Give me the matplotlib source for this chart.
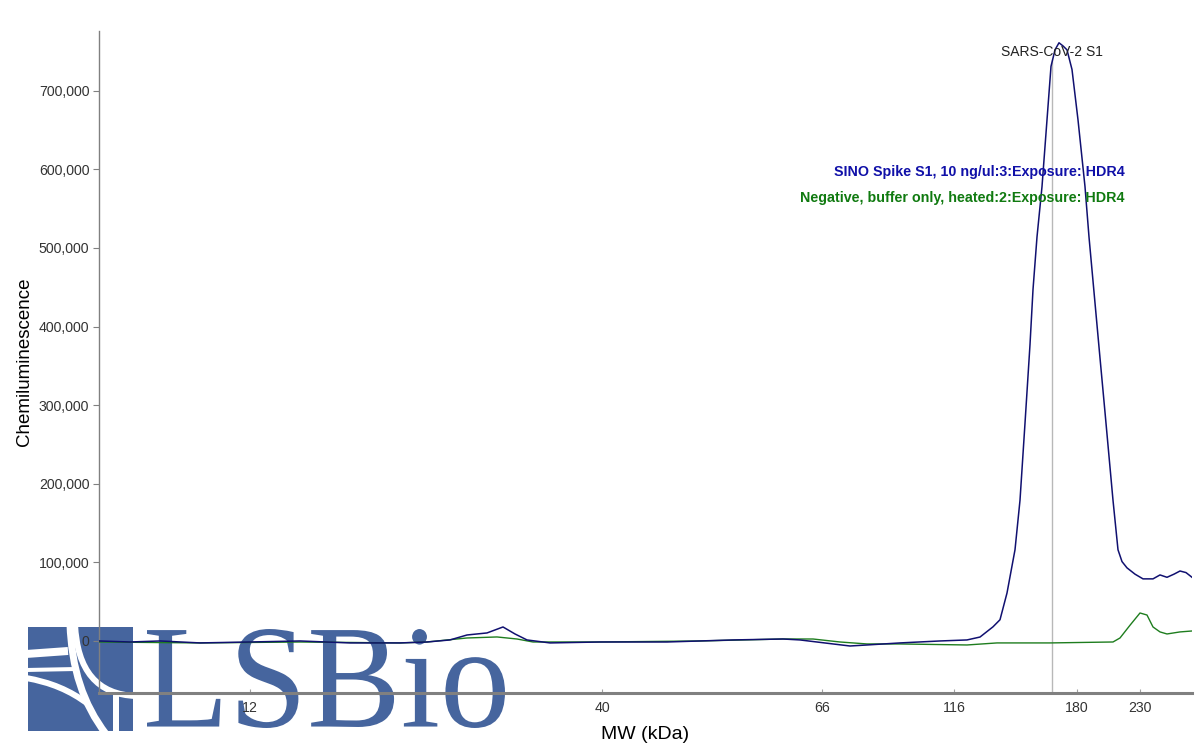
import matplotlib
matplotlib.use("Agg")
import matplotlib.pyplot as plt
from matplotlib.textpath import TextPath
from matplotlib.font_manager import FontProperties
from matplotlib.patches import PathPatch, Rectangle
from matplotlib.path import Path
from matplotlib.transforms import Affine2D
from matplotlib.ticker import FuncFormatter

# ---------------- data ----------------
# lane position (distance along the lane, arbitrary units)
sino_pos = [0, 31, 61, 101, 151, 201, 251, 301, 328, 351,
            368, 388, 404, 416, 428, 451, 501, 568, 634, 684,
            701, 734, 751, 768, 801, 841, 868, 881, 894, 901,
            908, 916, 921, 926, 931, 934, 938, 943, 948, 952,
            956, 960, 964, 968, 973, 979, 986, 990, 996, 1001,
            1006, 1011, 1014, 1019, 1023, 1028, 1036, 1044, 1054, 1061,
            1068, 1075, 1081, 1087, 1093]
# chemiluminescence, thousands
sino_k = [0, -1.3, 0, -2.5, -1.3, 0, -2.5, -2.5, -1.3, 1.3,
          7.6, 10.2, 17.8, 8.9, 1.3, -2.5, -1.3, -1.3, 1.3, 2.5,
          1.3, -3.8, -6.4, -5.1, -2.5, 0, 1.3, 5, 18, 27,
          61, 116, 179, 277, 377, 447, 514, 578, 663, 731,
          752, 761, 757, 752, 727, 663, 578, 514, 430, 360,
          291, 221, 179, 116, 101, 93, 85, 79, 79, 84,
          81, 85, 89, 87, 81]

neg_pos = [0, 101, 201, 301, 328, 368, 398, 418, 434, 501,
           601, 684, 714, 741, 768, 801, 868, 898, 951, 1014,
           1021, 1031, 1041, 1048, 1054, 1061, 1068, 1081, 1093]
neg_k = [-1.3, -2.5, -1.3, -2.5, -1.3, 3.8, 5.1, 2.5, -1.3, -1.3,
         0, 2.5, 2.5, -1.3, -3.8, -3.8, -5.1, -2.5, -2.5, -1.3,
         3.8, 20, 35.6, 33, 17.8, 11.5, 8.9, 11.5, 12.7]

mw_labels = ["12", "40", "66", "116", "180", "230"]
mw_pos = [151, 503, 723, 855, 978, 1041]

marker_pos = 953
marker_label = "SARS-CoV-2 S1"
series_names = ["SINO Spike S1, 10 ng/ul:3:Exposure: HDR4",
                "Negative, buffer only, heated:2:Exposure: HDR4"]
y_ticks = [0, 100000, 200000, 300000, 400000, 500000, 600000, 700000]

# ---------------- figure ----------------
W, H = 1200, 750
fig = plt.figure(figsize=(12, 7.5), dpi=100)
fig.patch.set_facecolor("white")
ax = fig.add_axes([99 / W, 57 / H, 1093 / W, 662 / H])
ax.patch.set_visible(False)

sans = "Liberation Sans"
line_blue = "#101070"
line_green = "#1e7d1e"

ax.plot(neg_pos, [v * 1000 for v in neg_k], color=line_green, lw=1.0, zorder=3)
ax.plot(sino_pos, [v * 1000 for v in sino_k], color=line_blue, lw=1.1, zorder=4)

ax.set_xlim(0, 1093)
ax.set_ylim(-66200, 776000)

ax.set_yticks(y_ticks)
ax.yaxis.set_major_formatter(FuncFormatter(lambda v, p: f"{v:,.0f}"))
ax.set_xticks(mw_pos)
ax.set_xticklabels(mw_labels)

for lab in ax.get_yticklabels() + ax.get_xticklabels():
    lab.set_fontfamily(sans)
    lab.set_fontsize(10.2)
    lab.set_color("#333333")

ax.tick_params(axis="y", length=4, width=0.8, color="#808080", pad=3)
ax.tick_params(axis="x", length=3, width=0.8, color="#a0a0a0", direction="in", pad=6)

for s in ["top", "right"]:
    ax.spines[s].set_visible(False)
ax.spines["left"].set_color("#808080")
ax.spines["left"].set_linewidth(1.0)
ax.spines["bottom"].set_color("#808080")
ax.spines["bottom"].set_linewidth(2.2)

ax.set_ylabel("Chemiluminescence", fontfamily=sans, fontsize=13.5, color="black")
ax.set_xlabel("MW (kDa)", fontfamily=sans, fontsize=14, color="black", labelpad=8)
ax.yaxis.set_label_coords(-0.060, 0.5)

# marker line and label
ax.plot([marker_pos, marker_pos], [-66200, 739000], color="#b8b8b8", lw=1.0, zorder=2)
ax.text(marker_pos, 749000, marker_label, ha="center", va="center",
        fontfamily=sans, fontsize=10, color="#222222", zorder=5)

# legend texts
ax.text(1026, 596000, series_names[0], ha="right", va="center", fontfamily=sans,
        fontsize=10.3, fontweight="bold", color="#1010a8", zorder=5)
ax.text(1026, 563000, series_names[1], ha="right", va="center", fontfamily=sans,
        fontsize=10.3, fontweight="bold", color="#107a10", zorder=5)

# ---------------- watermark logo ----------------
logo_col = "#46659e"


def fx(x):
    return x / W


def fy(y):
    return 1 - y / H


icon = Rectangle((fx(28), fy(731)), fx(133) - fx(28), fy(627) - fy(731),
                 transform=fig.transFigure, facecolor=logo_col, edgecolor="none", zorder=-2)
fig.add_artist(icon)

C3 = [Path.MOVETO, Path.CURVE3, Path.CURVE3]
L2 = [Path.MOVETO, Path.LINETO]
strokes = [
    # (points, codes, width in px)
    ([(70, 624), (72, 690), (106, 734)], C3, 7),
    ([(75, 624), (78, 694), (136, 696)], C3, 6),
    ([(26, 678), (62, 684), (88, 704)], C3, 6),
    ([(26, 654), (68, 651)], L2, 8),
    ([(26, 670), (76, 669)], L2, 4),
    ([(116.5, 694), (116.5, 734)], L2, 6),
]
for pts, codes, wpx in strokes:
    p = Path([(fx(x), fy(y)) for x, y in pts], codes)
    fig.add_artist(PathPatch(p, transform=fig.transFigure, facecolor="none",
                             edgecolor="white", lw=wpx * 0.72, zorder=-1, capstyle="butt"))

# clip strokes to the icon square by drawing white frame around it
frame_w = 6
for (x, y, w, h) in [(28 - frame_w, 627 - frame_w, 105 + 2 * frame_w, frame_w),
                     (28 - frame_w, 731, 105 + 2 * frame_w, frame_w),
                     (28 - frame_w, 627, frame_w, 104),
                     (133, 627, frame_w, 104)]:
    fig.add_artist(Rectangle((fx(x), fy(y + h)), w / W, h / H, transform=fig.transFigure,
                             facecolor="white", edgecolor="none", zorder=-0.5))

tp = TextPath((0, 0), "LSBio", size=100, prop=FontProperties(family="Liberation Serif"))
ext = tp.get_extents()
x0, x1, y0, y1 = 147, 505, 22, 121  # pixel box (y from bottom)
tr = (Affine2D().translate(-ext.x0, -ext.y0)
      .scale((x1 - x0) / ext.width, (y1 - y0) / ext.height)
      .translate(x0, y0).scale(1 / W, 1 / H))
logo_path = tr.transform_path(tp)
fig.add_artist(PathPatch(logo_path, transform=fig.transFigure, facecolor=logo_col,
                         edgecolor="none", zorder=-2))

fig.savefig("out.png", dpi=100, facecolor="white")
